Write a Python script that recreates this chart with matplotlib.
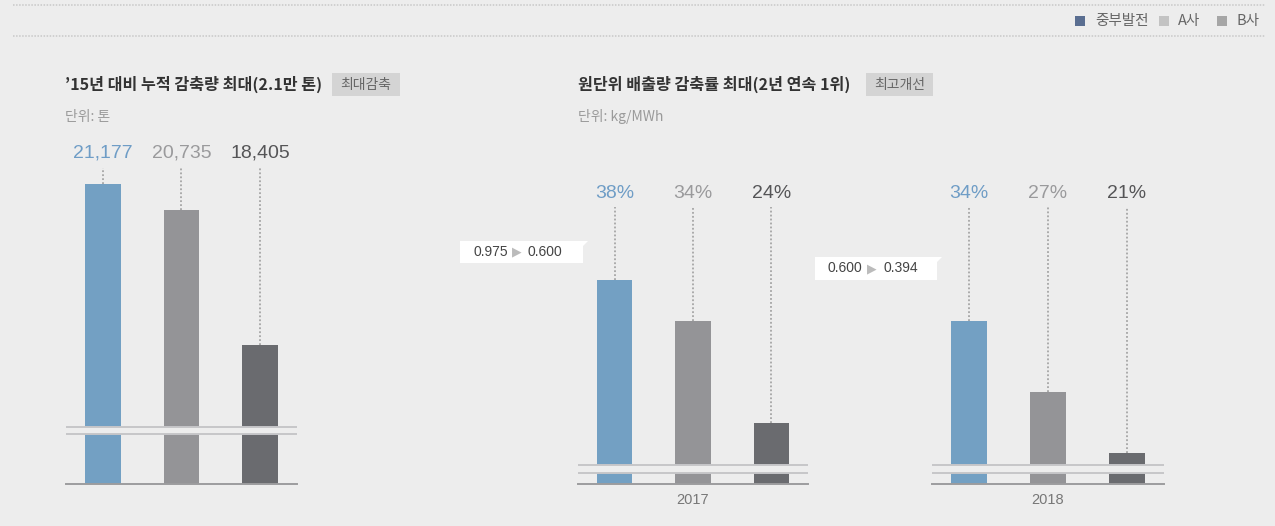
"""
Two-panel bar chart: cumulative reduction since '15 and emission-intensity reduction rate.
Broken-axis bars, dotted leaders to value labels, Korean headers.
"""
import matplotlib
matplotlib.use("Agg")
import matplotlib.pyplot as plt
from matplotlib.patches import Rectangle, Polygon
from matplotlib.transforms import blended_transform_factory

W, H = 1275, 526
BG = "#ededed"

# data
companies = ["중부발전", "A사", "B사"]
cum_reduction = [21177, 20735, 18405]
years = ["2017", "2018"]
rate_by_year = [[38, 34, 24], [34, 27, 21]]
intensity_change = [("0.975", "0.600"), ("0.600", "0.394")]

bar_colors = ["#73a0c3", "#949497", "#6a6b6f"]
label_colors = ["#6f9dc6", "#9a9a9c", "#555557"]
legend_colors = ["#5a6e91", "#c3c3c3", "#a6a6a6"]

KR = ["Noto Sans CJK KR", "DejaVu Sans"]
NUM = ["Liberation Sans", "DejaVu Sans"]

BASE_PX, TOP_PX = 484, 140


def fx(px):
    return px / W


def fy(py):
    return 1 - py / H


fig = plt.figure(figsize=(W / 100, H / 100), dpi=100, facecolor=BG)


def panel(x0, x1, values, y_min, per_px, label_py, leader_py, break_py, fmt, year=None):
    ax = fig.add_axes([fx(x0), fy(BASE_PX), fx(x1) - fx(x0), (BASE_PX - TOP_PX) / H])
    ax.set_facecolor("none")
    ax.set_xlim(-0.47, 2.47)
    ax.set_ylim(y_min, y_min + (BASE_PX - TOP_PX) * per_px)
    for s in ax.spines.values():
        s.set_visible(False)
    ax.set_xticks([])
    ax.set_yticks([])

    xs = list(range(len(values)))
    ax.bar(xs, values, width=0.45, color=bar_colors, zorder=2)

    # axis break
    span = BASE_PX - TOP_PX
    b_lo = (BASE_PX - break_py[1]) / span
    b_hi = (BASE_PX - break_py[0]) / span
    ax.add_patch(Rectangle((0, b_lo), 1, b_hi - b_lo, transform=ax.transAxes,
                           facecolor=BG, edgecolor="none", zorder=3))
    for yb in (b_lo, b_hi):
        ax.plot([0, 1], [yb, yb], transform=ax.transAxes, color="#c6c6c9", lw=1.4, zorder=4)
    ax.plot([0, 1], [0, 0], transform=ax.transAxes, color="#9c9c9e", lw=1.4, zorder=4,
            clip_on=False)

    tr = blended_transform_factory(ax.transData, fig.transFigure)
    y_leader = y_min + (BASE_PX - leader_py) * per_px
    for i, v in enumerate(values):
        ax.plot([i, i], [v, y_leader], ls=(0, (1, 1.2)), color="#a5a5a5", lw=1.3, zorder=1)
        ax.text(i, fy(label_py), fmt(v), transform=tr, ha="center", va="center",
                fontsize=14, color=label_colors[i], family=NUM)
    if year:
        ax.text(1, fy(500), year, transform=tr, ha="center", va="center",
                fontsize=10.5, color="#777777", family=NUM)
    return ax


# left panel: cumulative reduction (ton)
panel(66, 297, cum_reduction, 16010, 17.22, 153, 168, (427, 434), lambda v: f"{v:,}")

# right panels: reduction rate (%)
for (x0, x1), vals, yr in zip([(578, 808), (932, 1164)], rate_by_year, years):
    panel(x0, x1, vals, 18, 1 / 10.2, 194, 207, (465, 473), lambda v: f"{v}%", year=yr)

# top dotted rules
for py in (5, 36):
    fig.add_artist(plt.Line2D([fx(13), fx(1265)], [fy(py), fy(py)], transform=fig.transFigure,
                              color="#c8c8c8", lw=1.1, ls=(0, (1, 1))))

# legend
for (sq_x, tx_x), name, c in zip([(1075, 1095), (1159, 1178), (1217, 1237)], companies, legend_colors):
    fig.add_artist(Rectangle((fx(sq_x), fy(26)), fx(10), 10 / H, transform=fig.transFigure,
                             facecolor=c, edgecolor="none"))
    fig.text(fx(tx_x), fy(21), name, ha="left", va="center", fontsize=10.5,
             color="#666666", family=KR)

# headers
headers = [
    (65, "’15년 대비 누적 감축량 최대(2.1만 톤)", (332, 400), "최대감축", "단위: 톤"),
    (578, "원단위 배출량 감축률 최대(2년 연속 1위)", (866, 933), "최고개선", "단위: kg/MWh"),
]
for x, title, (bx0, bx1), badge, unit in headers:
    fig.text(fx(x), fy(84), title, ha="left", va="center", fontsize=11.6,
             fontweight="bold", color="#333333", family=KR)
    fig.add_artist(Rectangle((fx(bx0), fy(96)), fx(bx1 - bx0), 23 / H, transform=fig.transFigure,
                             facecolor="#d4d4d4", edgecolor="none"))
    fig.text(fx((bx0 + bx1) / 2), fy(84.5), badge, ha="center", va="center", fontsize=10,
             color="#666666", family=KR)
    fig.text(fx(x), fy(117), unit, ha="left", va="center", fontsize=10,
             color="#9a9a9a", family=KR)

# intensity change callouts
for (l, t, r, b), (before, after) in zip([(460, 241, 588, 263), (815, 257, 942, 280)], intensity_change):
    pts = [(l, t), (r, t), (r - 5, t + 5), (r - 5, b), (l, b)]
    fig.add_artist(Polygon([(fx(px), fy(py)) for px, py in pts], closed=True,
                           transform=fig.transFigure, facecolor="white", edgecolor="none"))
    cy = fy((t + b) / 2)
    fig.text(fx(l + 13), cy, before, ha="left", va="center", fontsize=10,
             color="#444444", family=NUM)
    fig.text(fx(l + 57), cy, "▶", ha="center", va="center", fontsize=9,
             color="#bbbbbb", family="DejaVu Sans")
    fig.text(fx(l + 68), cy, after, ha="left", va="center", fontsize=10,
             color="#444444", family=NUM)

fig.savefig("out.png", dpi=100, facecolor=BG)
